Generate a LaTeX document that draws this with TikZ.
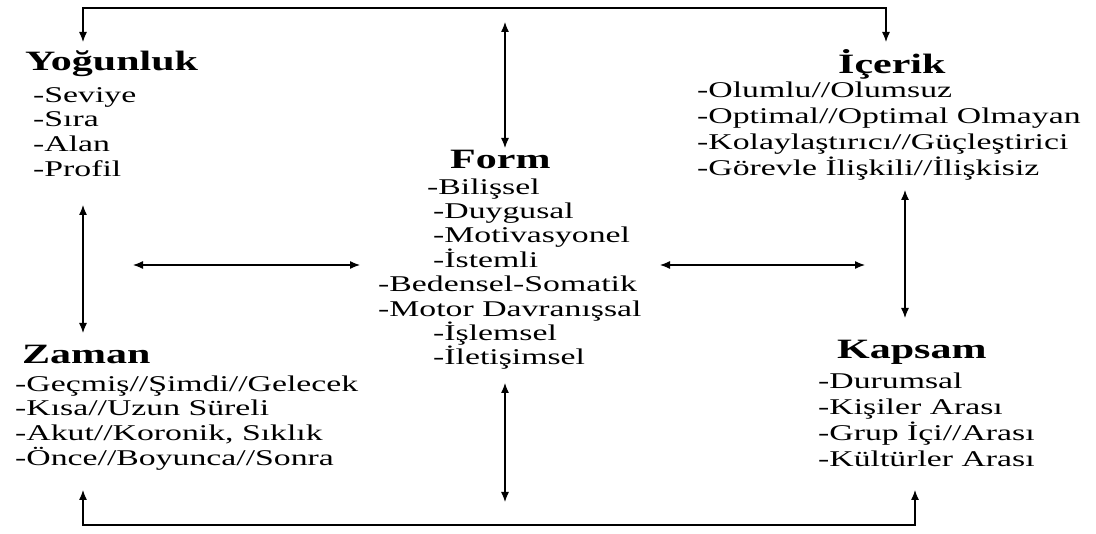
\documentclass[tikz,border=0pt]{standalone}
\usepackage{fontspec}
\setmainfont{Liberation Serif}[FakeStretch=1.5]
\usetikzlibrary{arrows.meta}

\begin{document}
\begin{tikzpicture}[
  x=1pt, y=-1pt,
  hnode/.style={anchor=base west,inner sep=0pt,font=\fontsize{28}{30}\selectfont\bfseries},
  inode/.style={anchor=base west,inner sep=0pt,font=\fontsize{22.5}{25}\selectfont}
]
  \useasboundingbox (0,0) rectangle (1096,534);

  % Yogunluk
  \node[hnode] (yog) at (25,71) {Yoğunluk};
  \node[inode] (yog1) at (33,103) {-Seviye};
  \node[inode] (yog2) at (33,127) {-Sıra};
  \node[inode] (yog3) at (33,152) {-Alan};
  \node[inode] (yog4) at (33,177) {-Profil};

  % Icerik
  \node[hnode] (ice) at (838,74) {İçerik};
  \node[inode] (ice1) at (697,98) {-Olumlu//Olumsuz};
  \node[inode] (ice2) at (697,124) {-Optimal//Optimal Olmayan};
  \node[inode] (ice3) at (697,150) {-Kolaylaştırıcı//Güçleştirici};
  \node[inode] (ice4) at (697,176) {-Görevle İlişkili//İlişkisiz};

  % Form
  \node[hnode] (frm) at (450,169) {Form};
  \node[inode] (frm1) at (427,195) {-Bilişsel};
  \node[inode] (frm2) at (433,219) {-Duygusal};
  \node[inode] (frm3) at (433,243) {-Motivasyonel};
  \node[inode] (frm4) at (433,268) {-İstemli};
  \node[inode] (frm5) at (378,292) {-Bedensel-Somatik};
  \node[inode] (frm6) at (378,317) {-Motor Davranışsal};
  \node[inode] (frm7) at (433,341) {-İşlemsel};
  \node[inode] (frm8) at (433,365) {-İletişimsel};

  % Zaman
  \node[hnode] (zmn) at (22,364) {Zaman};
  \node[inode] (zmn1) at (15,392) {-Geçmiş//Şimdi//Gelecek};
  \node[inode] (zmn2) at (15,416) {-Kısa//Uzun Süreli};
  \node[inode] (zmn3) at (15,441) {-Akut//Koronik, Sıklık};
  \node[inode] (zmn4) at (15,466) {-Önce//Boyunca//Sonra};

  % Kapsam
  \node[hnode] (kps) at (837,359) {Kapsam};
  \node[inode] (kps1) at (818,389) {-Durumsal};
  \node[inode] (kps2) at (818,415) {-Kişiler Arası};
  \node[inode] (kps3) at (818,441) {-Grup İçi//Arası};
  \node[inode] (kps4) at (818,467) {-Kültürler Arası};

  % arrow ends
  \coordinate (yogtip) at (83,42);
  \coordinate (icetip) at (886,42);
  \coordinate (topl) at (83,8);
  \coordinate (topr) at (886,8);
  \coordinate (zmntip) at (83,490);
  \coordinate (kpstip) at (915,490);
  \coordinate (botl) at (83,525);
  \coordinate (botr) at (915,525);
  \coordinate (frmtop) at (505,22);
  \coordinate (frmup) at (505,148);
  \coordinate (frmdown) at (505,383);
  \coordinate (frmbot) at (505,502);
  \coordinate (lup) at (83,205);
  \coordinate (ldown) at (83,333);
  \coordinate (rup) at (905,190);
  \coordinate (rdown) at (905,318);
  \coordinate (lleft) at (133,265);
  \coordinate (lright) at (360,265);
  \coordinate (rleft) at (660,265);
  \coordinate (rright) at (865,265);

  % outer loops
  \draw[line width=1.2pt,{Latex[length=10pt,width=8pt]}-{Latex[length=10pt,width=8pt]}] (yogtip) -- (topl) -- (topr) -- (icetip);
  \draw[line width=1.2pt,{Latex[length=10pt,width=8pt]}-{Latex[length=10pt,width=8pt]}] (zmntip) -- (botl) -- (botr) -- (kpstip);

  % inner edges
  \draw[line width=1.2pt,{Latex[length=10pt,width=8pt]}-{Latex[length=10pt,width=8pt]}] (frmtop) -- (frmup);
  \draw[line width=1.2pt,{Latex[length=10pt,width=8pt]}-{Latex[length=10pt,width=8pt]}] (frmdown) -- (frmbot);
  \draw[line width=1.2pt,{Latex[length=10pt,width=8pt]}-{Latex[length=10pt,width=8pt]}] (lup) -- (ldown);
  \draw[line width=1.2pt,{Latex[length=10pt,width=8pt]}-{Latex[length=10pt,width=8pt]}] (rup) -- (rdown);
  \draw[line width=1.2pt,{Latex[length=10pt,width=8pt]}-{Latex[length=10pt,width=8pt]}] (lleft) -- (lright);
  \draw[line width=1.2pt,{Latex[length=10pt,width=8pt]}-{Latex[length=10pt,width=8pt]}] (rleft) -- (rright);

\end{tikzpicture}
\end{document}
